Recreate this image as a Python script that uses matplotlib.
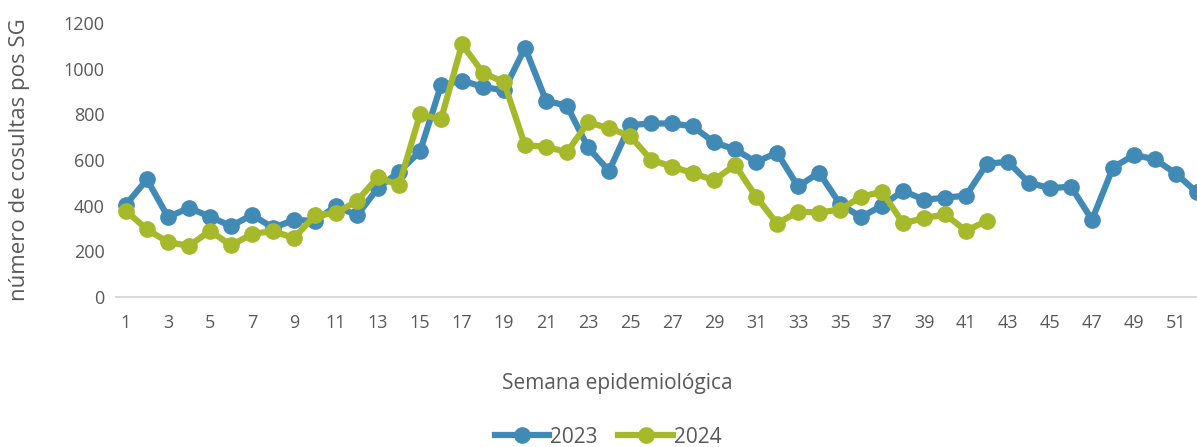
import matplotlib.pyplot as plt
import numpy as np

# Datos
semanas_2023 = np.arange(1, 53)
consultas_2023 = [405, 515, 350, 390, 352, 310, 360, 303, 337, 334,
                  398, 357, 478, 548, 638, 927, 948, 920, 905, 1092,
                  860, 837, 655, 552, 753, 760, 760, 747, 677, 647,
                  591, 632, 484, 545, 407, 350, 400, 465, 426, 435,
                  444, 584, 592, 500, 477, 483, 338, 567, 622, 603,
                  540, 458]

semanas_2024 = np.arange(1, 43)
consultas_2024 = [377, 296, 240, 224, 290, 226, 276, 289, 258, 358,
                  367, 421, 525, 489, 800, 778, 1107, 982, 940, 664,
                  659, 634, 765, 739, 706, 601, 571, 542, 512, 578,
                  440, 321, 374, 370, 383, 439, 461, 323, 345, 362,
                  290, 334]

etiquetas_x = list(range(1, 53, 2))

azul = '#418ab5'
verde = '#a6b92a'
gris = '#595959'

plt.rcParams['font.family'] = ['Open Sans', 'DejaVu Sans']

fig = plt.figure(figsize=(11.97, 4.47), dpi=100)
ax = fig.add_axes([0.0965, 0.3356, 0.9123, 0.6129])

ax.plot(semanas_2023, consultas_2023, color=azul, lw=4.5, marker='o',
        ms=11, label='2023', clip_on=False, solid_joinstyle='round')
ax.plot(semanas_2024, consultas_2024, color=verde, lw=4.5, marker='o',
        ms=11, label='2024', clip_on=False, solid_joinstyle='round')

ax.set_xlim(0.5, 52.5)
ax.set_ylim(0, 1200)
ax.set_yticks(range(0, 1201, 200))
ax.set_xticks(etiquetas_x)
ax.tick_params(axis='both', length=0, labelsize=13, colors=gris)
ax.tick_params(axis='x', pad=12)
ax.tick_params(axis='y', pad=8)

for lado in ['top', 'right', 'left']:
    ax.spines[lado].set_visible(False)
ax.spines['bottom'].set_color('#d9d9d9')
ax.spines['bottom'].set_linewidth(1.5)

ax.set_ylabel('número de cosultas pos SG', fontsize=16, color=gris)
ax.yaxis.set_label_coords(-0.078, 0.5)
fig.text(0.516, 0.143, 'Semana epidemiológica', ha='center', va='center',
         fontsize=15, color=gris)

ax.legend(loc='center', bbox_to_anchor=(0.508, 0.022), bbox_transform=fig.transFigure,
          ncol=2, frameon=False, fontsize=15, handlelength=2.6,
          handletextpad=0.05, columnspacing=1.0, labelcolor=gris)

fig.savefig('out.png', dpi=100)
